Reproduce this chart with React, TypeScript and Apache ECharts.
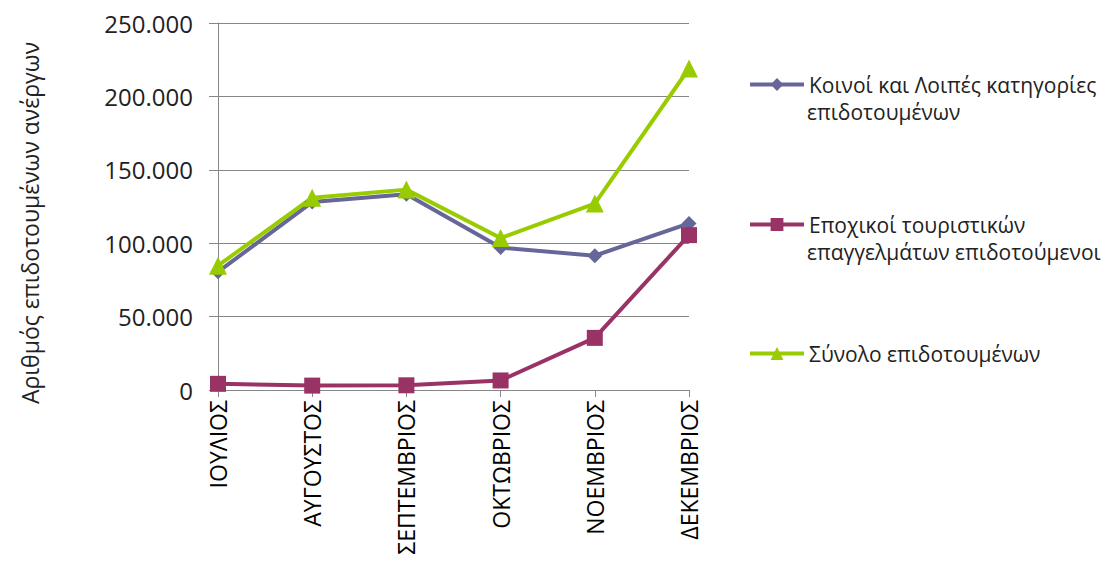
import React, { useEffect, useRef } from "react";
import * as echarts from "echarts";

const months = ["ΙΟΥΛΙΟΣ", "ΑΥΓΟΥΣΤΟΣ", "ΣΕΠΤΕΜΒΡΙΟΣ", "ΟΚΤΩΒΡΙΟΣ", "ΝΟΕΜΒΡΙΟΣ", "ΔΕΚΕΜΒΡΙΟΣ"];
const common = [80500, 128000, 133300, 97000, 91500, 113500];
const seasonal = [4200, 3000, 3200, 6500, 35500, 105500];
const total = [84700, 131000, 136500, 103500, 127000, 219000];
const seriesNames = [
  "Κοινοί και Λοιπές κατηγορίες επιδοτουμένων",
  "Εποχικοί τουριστικών επαγγελμάτων επιδοτούμενοι",
  "Σύνολο επιδοτουμένων",
];
const firstLines = ["Κοινοί και Λοιπές κατηγορίες", "Εποχικοί τουριστικών", "Σύνολο επιδοτουμένων"];
const secondLines = ["επιδοτουμένων", "επαγγελμάτων επιδοτούμενοι", ""];
const yTitle = "Αριθμός επιδοτουμένων ανέργων";

const FONT = "Open Sans";

export default function App() {
  const ref = useRef<HTMLDivElement>(null);
  useEffect(() => {
    const chart = echarts.init(ref.current!, null, { renderer: "svg" });
    const colors = ["#666699", "#993366", "#99CC00"];
    const legendTops = [69, 209, 338];
    const fmt = (v: number) =>
      v === 0 ? "0" : v.toString().replace(/\B(?=(\d{3})+(?!\d))/g, ".");
    chart.setOption({
      animation: false,
      color: colors,
      textStyle: { fontFamily: FONT },
      grid: { left: 218, right: 422, top: 23, bottom: 172 },
      xAxis: {
        type: "category",
        data: months,
        boundaryGap: false,
        axisLine: { lineStyle: { color: "#868686", width: 1 } },
        axisTick: { show: true, length: 7, lineStyle: { color: "#868686" } },
        axisLabel: { rotate: 90, margin: 10, fontSize: 23, color: "#000", fontFamily: FONT },
        splitLine: { show: false },
      },
      yAxis: {
        type: "value",
        min: 0,
        max: 250000,
        interval: 50000,
        axisLine: { show: true, lineStyle: { color: "#868686", width: 1 } },
        axisTick: { show: true, length: 9, lineStyle: { color: "#868686" } },
        axisLabel: { margin: 25, fontSize: 24, color: "#222", fontFamily: FONT, formatter: fmt },
        splitLine: { show: true, lineStyle: { color: "#868686", width: 1 } },
      },
      legend: seriesNames.map((n, i) => ({
        data: [n],
        left: 743,
        top: legendTops[i],
        itemWidth: 54,
        itemHeight: 16,
        formatter: () => firstLines[i],
        lineStyle: { width: 4 },
        textStyle: { fontSize: 21, color: "#222", fontFamily: FONT },
        selectedMode: false,
      })),
      graphic: [
        ...secondLines
          .map((t, i) => ({ t, i }))
          .filter((o) => o.t)
          .map((o) => ({
            type: "text",
            left: 807,
            top: legendTops[o.i] + 32,
            style: { text: o.t, fontSize: 21, fill: "#222", fontFamily: FONT },
          })),
        {
          type: "text",
          x: 30,
          y: 223,
          rotation: Math.PI / 2,
          style: {
            text: yTitle,
            fontSize: 23,
            fill: "#222",
            fontFamily: FONT,
            align: "center",
            verticalAlign: "middle",
          },
        },
      ],
      series: [
        {
          name: seriesNames[0],
          type: "line",
          data: common,
          symbol: "diamond",
          symbolSize: 15,
          lineStyle: { width: 4 },
        },
        {
          name: seriesNames[1],
          type: "line",
          data: seasonal,
          symbol: "rect",
          symbolSize: 16,
          lineStyle: { width: 4 },
        },
        {
          name: seriesNames[2],
          type: "line",
          data: total,
          symbol: "triangle",
          symbolSize: 18,
          lineStyle: { width: 4 },
        },
      ],
    });
    return () => chart.dispose();
  }, []);
  return (
    <div
      ref={ref}
      style={{ position: "fixed", left: 0, top: 0, width: 1111, height: 562, background: "#fff" }}
    />
  );
}
